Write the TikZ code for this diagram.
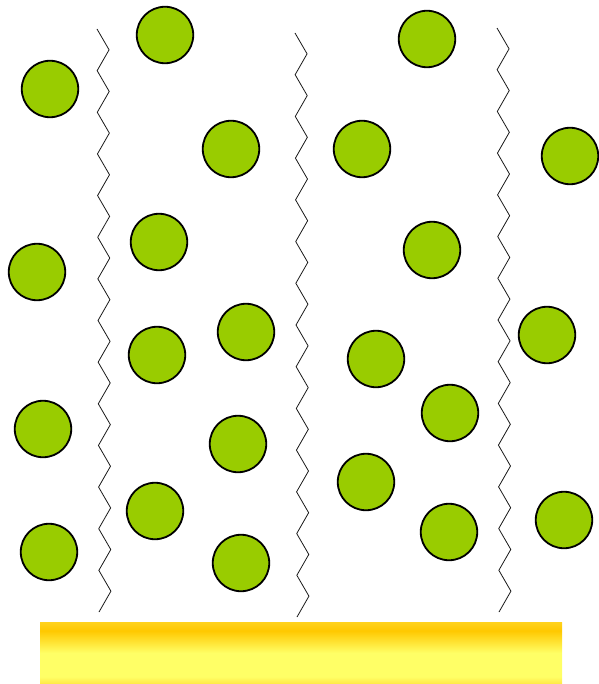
\documentclass[tikz,border=0pt]{standalone}
\definecolor{beadgreen}{HTML}{99CC00}
\definecolor{barorange}{HTML}{FFC800}
\definecolor{baredge}{HTML}{FFD21E}
\definecolor{baryellow}{HTML}{FFFF66}
\definecolor{barbottom}{HTML}{FFE845}
\pgfdeclareverticalshading{barshade}{100bp}{color(0bp)=(barbottom); color(25bp)=(barbottom); color(31bp)=(baryellow); color(50bp)=(baryellow); color(68bp)=(barorange); color(75bp)=(baredge); color(100bp)=(baredge)}
\tikzset{
  bead/.style={circle, draw=black, line width=1.8pt, fill=beadgreen, inner sep=0pt, minimum size=56.5pt},
  wire/.style={black!90, line width=0.8pt, line join=miter}
}
\begin{document}
\begin{tikzpicture}[x=1pt, y=-1pt]
  \useasboundingbox (0,0) rectangle (598,684);
  % zigzag chains
  \foreach \x/\ya/\yb in {97/29/612, 295/33/617, 497/28/612} {
    \draw[wire] (\x,\ya) \foreach \k in {1,...,28} { -- ({\x+12*mod(\k,2)+2*\k/28}, {\ya+\k*(\yb-\ya)/28}) };
  }
  % beads
  \foreach \x/\y [count=\i] in {50/89, 165/35, 231/149, 159/242, 37/272, 157/355, 246/332,
      43/429, 238/444, 155/511, 49/552, 241/563, 427/39, 362/149, 570/156, 432/250,
      376/359, 547/335, 450/413, 366/482, 449/532, 564/520} {
    \node[bead] (b\i) at (\x,\y) {};
  }
  % base plate
  \shade[shading=barshade] (40,622) rectangle (562,684);
\end{tikzpicture}
\end{document}
